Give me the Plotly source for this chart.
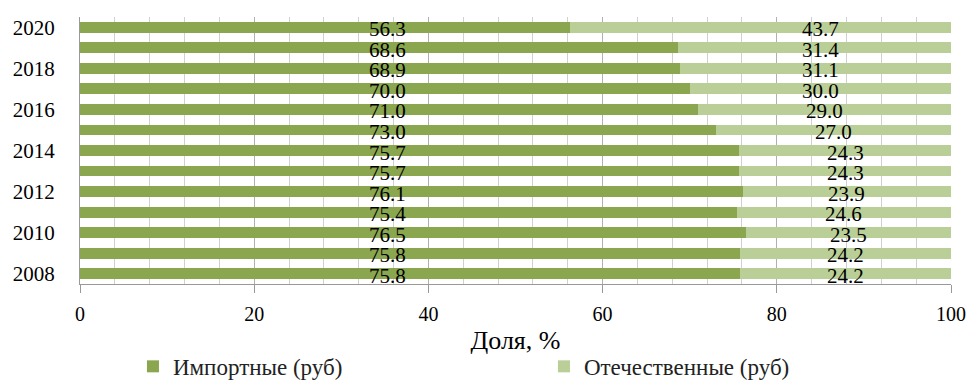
import plotly.graph_objects as go

# Share of imported vs domestic products, % (by value in roubles)
years = [2008, 2009, 2010, 2011, 2012, 2013, 2014, 2015, 2016, 2017, 2018, 2019, 2020]
imported = [75.8, 75.8, 76.5, 75.4, 76.1, 75.7, 75.7, 73.0, 71.0, 70.0, 68.9, 68.6, 56.3]
domestic = [24.2, 24.2, 23.5, 24.6, 23.9, 24.3, 24.3, 27.0, 29.0, 30.0, 31.1, 31.4, 43.7]
year_ticks = [2008, 2010, 2012, 2014, 2016, 2018, 2020]
x_ticks = [0, 20, 40, 60, 80, 100]

series_names = ["Импортные (руб)", "Отечественные (руб)"]
colors = ["#8AA64F", "#BACE97"]
FONT = "Liberation Serif"

fig = go.Figure()
fig.add_trace(go.Bar(y=years, x=imported, orientation="h", name=series_names[0],
                     marker=dict(color=colors[0], line=dict(width=0))))
fig.add_trace(go.Bar(y=years, x=domestic, orientation="h", name=series_names[1],
                     marker=dict(color=colors[1], line=dict(width=0))))

# value labels: imported share in a column on the left,
# domestic share centred in its segment (kept on the right-hand side)
LEFT_LABEL_X = 35.3
for yr, a, b in zip(years, imported, domestic):
    fig.add_annotation(x=LEFT_LABEL_X, y=yr, text=f"{a:.1f}", showarrow=False,
                       xref="x", yref="y", yshift=-2,
                       font=dict(family=FONT, size=21, color="black"))
    fig.add_annotation(x=max(a + b / 2, 85.0), y=yr, text=f"{b:.1f}", showarrow=False,
                       xref="x", yref="y", yshift=-2,
                       font=dict(family=FONT, size=21, color="black"))

fig.update_layout(
    width=970, height=383,
    barmode="stack", bargap=0.47,
    plot_bgcolor="white", paper_bgcolor="white",
    margin=dict(l=80, r=19, t=17, b=99, autoexpand=False),
    font=dict(family=FONT, size=20, color="black"),
    showlegend=True,
    legend=dict(orientation="h", x=0.0608, xanchor="left", y=-0.228, yanchor="top",
                font=dict(family=FONT, size=23, color="#222222"),
                entrywidth=366, entrywidthmode="pixels", itemwidth=30,
                bgcolor="rgba(0,0,0,0)", traceorder="normal"),
)
fig.update_xaxes(
    range=[0, 100], tickvals=x_ticks, ticks="outside", ticklen=8,
    tickcolor="#999999", tickfont=dict(family=FONT, size=20, color="black"),
    ticklabelstandoff=4,
    showgrid=True, gridcolor="#B0B0B0", gridwidth=1,
    minor=dict(dtick=4, showgrid=True, gridcolor="#D0D0D0", gridwidth=1),
    showline=True, linecolor="#999999", linewidth=1,
    zeroline=False, fixedrange=True,
    title=dict(text="Доля, %", font=dict(family=FONT, size=26, color="black"), standoff=6),
)
fig.update_yaxes(
    range=[2007.5, 2020.5], tickvals=year_ticks, ticks="outside", ticklen=0,
    tickfont=dict(family=FONT, size=21, color="black"), ticklabelstandoff=20,
    showgrid=False, showline=True, linecolor="#999999", linewidth=1,
    zeroline=False, fixedrange=True,
)

fig.write_html("out.html")
